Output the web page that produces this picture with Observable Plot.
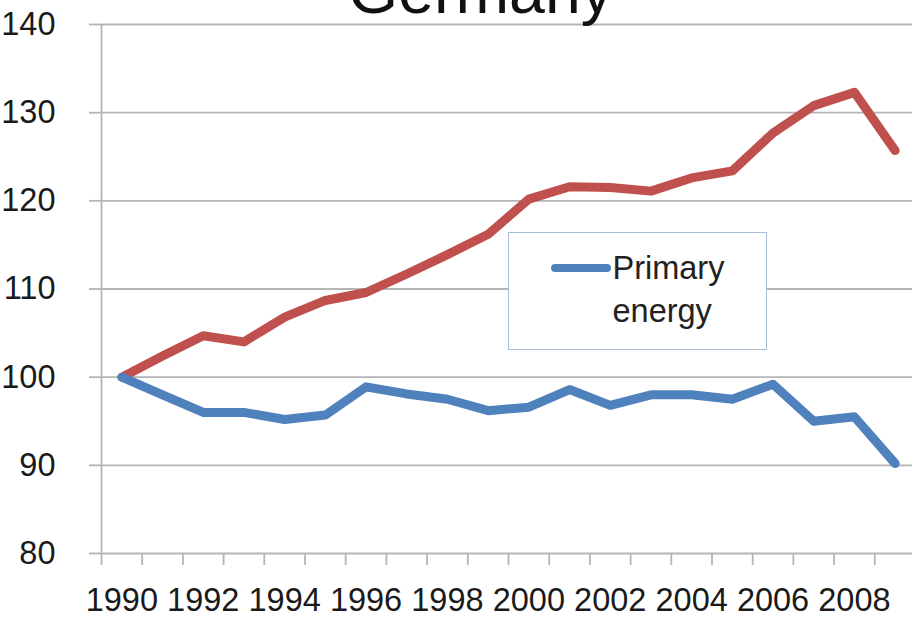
<!DOCTYPE html>
<html>
<head>
<meta charset="utf-8">
<script src="https://cdn.jsdelivr.net/npm/d3@7"></script>
<script src="https://cdn.jsdelivr.net/npm/@observablehq/plot@0.6"></script>
<style>
  html, body { margin: 0; padding: 0; background: #fff; overflow: hidden; }
  body { position: relative; width: 912px; height: 618px; font-family: "Liberation Sans", Arial, sans-serif; }
  #title { position: absolute; left: 480.5px; top: -41.5px; transform: translateX(-50%); font-size: 64.4px; line-height: 1; color: #111; white-space: nowrap; }
  #legend { position: absolute; left: 507.5px; top: 231.5px; width: 259.5px; height: 118px; box-sizing: border-box; border: 1.5px solid #a9bcd6; background: #fff; }
  #legend .sw { position: absolute; left: 42px; top: 31.5px; width: 60px; height: 8px; border-radius: 4px; background: #4f81bd; }
  #legend .lab { position: absolute; left: 104px; top: 14px; width: 140px; font-size: 32.5px; line-height: 43.3px; color: #222; }
</style>
</head>
<body>
<div id="chart"></div>
<div id="title">Germany</div>
<div id="legend"><span class="sw"></span><div class="lab">Primary energy</div></div>
<script>
const years = [1990,1991,1992,1993,1994,1995,1996,1997,1998,1999,2000,2001,2002,2003,2004,2005,2006,2007,2008,2009];
const redSeries = [100,102.4,104.7,104.0,106.8,108.7,109.6,111.7,113.9,116.2,120.2,121.6,121.5,121.1,122.6,123.4,127.7,130.8,132.3,125.7];
const primaryEnergy = [100,98.0,96.0,96.0,95.2,95.7,98.9,98.1,97.5,96.2,96.6,98.6,96.8,98.0,98.0,97.5,99.2,95.0,95.5,90.2];
const yTicks = [80,90,100,110,120,130,140];
const xLabelYears = [1990,1992,1994,1996,1998,2000,2002,2004,2006,2008];
const xBoundaries = years.map(y => y - 0.5).concat([2009.5]);

const redData = years.map((y, i) => ({year: y, value: redSeries[i]}));
const blueData = years.map((y, i) => ({year: y, value: primaryEnergy[i]}));

const chart = Plot.plot({
  width: 912,
  height: 618,
  marginTop: 24,
  marginBottom: 65,
  marginLeft: 101,
  marginRight: 0,
  style: {fontFamily: "Liberation Sans, Arial, sans-serif", fontSize: "32.5px", color: "#1a1a1a", background: "#fff"},
  x: {domain: [1989.5, 2009.5], range: [101, 915]},
  y: {domain: [80, 140]},
  marks: [
    Plot.gridY(yTicks, {stroke: "#b5b5b5", strokeOpacity: 1, strokeWidth: 1.8}),
    Plot.axisY(yTicks, {tickSize: 12, tickPadding: 34, stroke: "#b5b5b5", strokeWidth: 1.8, fontSize: 32.5, fill: "#1a1a1a", label: null}),
    Plot.ruleX([1989.5], {y1: 80, y2: 140, stroke: "#b5b5b5", strokeWidth: 1.8}),
    Plot.axisX(xBoundaries, {tickSize: 12, tickFormat: () => "", stroke: "#b5b5b5", strokeWidth: 1.8, label: null}),
    Plot.axisX(xLabelYears, {tickSize: 0, tickPadding: 34, tickFormat: d => String(d), fontSize: 32.5, fill: "#1a1a1a", label: null}),
    Plot.line(redData, {x: "year", y: "value", stroke: "#c0504d", strokeWidth: 9, strokeLinejoin: "round", strokeLinecap: "round"}),
    Plot.line(blueData, {x: "year", y: "value", stroke: "#4f81bd", strokeWidth: 9, strokeLinejoin: "round", strokeLinecap: "round"})
  ]
});
document.getElementById("chart").appendChild(chart);
</script>
</body>
</html>
